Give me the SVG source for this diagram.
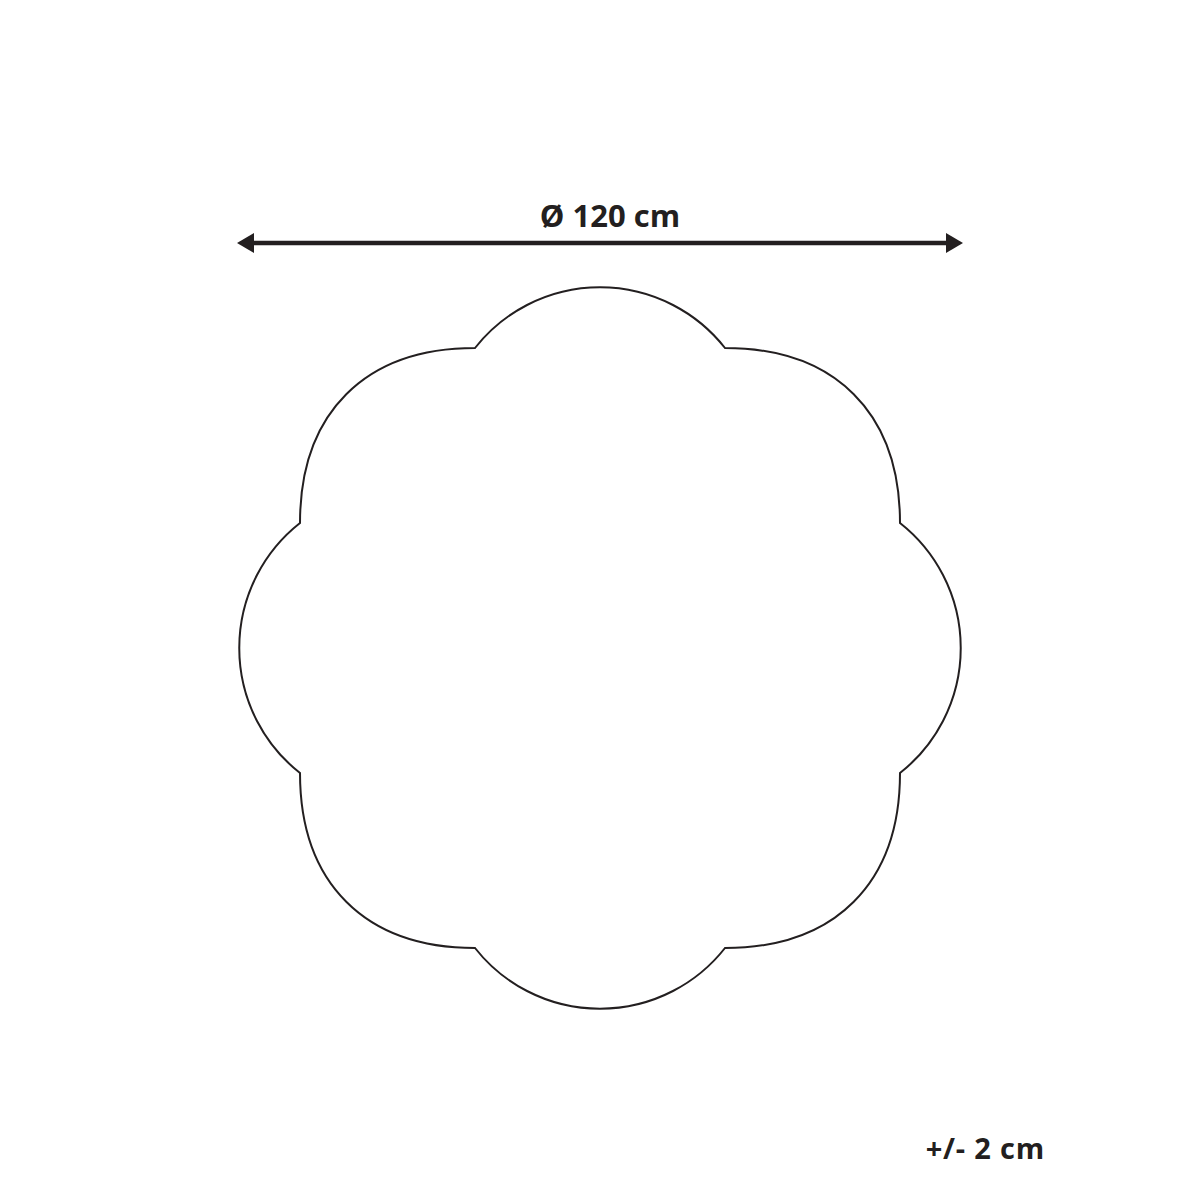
<svg xmlns="http://www.w3.org/2000/svg" width="1200" height="1200" viewBox="0 0 1200 1200">
<style>
.lbl{font-family:"Open Sans","Noto Sans","Liberation Sans",sans-serif;font-weight:bold;fill:#231f20}
.outline{fill:none;stroke:#231f20;stroke-width:2;stroke-linejoin:miter}
.dim{stroke:#231f20;stroke-width:4.5;fill:none}
.head{fill:#231f20}
</style>
<rect width="1200" height="1200" fill="#ffffff"/>
<g id="shape">
<path class="outline" d="M475,348 A159,159 0 0 1 725,348 C835,348 900,413 900,523 A159,159 0 0 1 900,773 C900,883 835,948 725,948 A159,159 0 0 1 475,948 C365,948 300,883 300,773 A159,159 0 0 1 300,523 C300,413 365,348 475,348 Z"/>
</g>
<g id="connectors">
<line class="dim" x1="250" y1="243" x2="950" y2="243"/>
<polygon class="head" points="237,243 254,233 254,253"/>
<polygon class="head" points="963,243 946,233 946,253"/>
</g>
<g id="labels">
<text class="lbl" x="610" y="227" font-size="31" text-anchor="middle">Ø 120 cm</text>
<text class="lbl" x="1045" y="1159" font-size="29" letter-spacing="0.8" text-anchor="end">+/- 2 cm</text>
</g>
</svg>
